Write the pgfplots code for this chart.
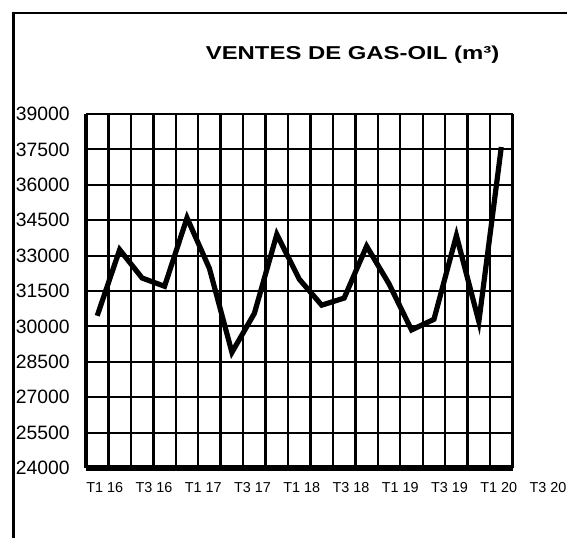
\documentclass[border=0pt]{standalone}
\usepackage{pgfplots}
\pgfplotsset{compat=1.18}
\usepackage{fontspec}
\setmainfont{Liberation Sans}
\begin{document}
\begin{tikzpicture}
\useasboundingbox (0,0) rectangle (425.25pt,403.5pt);
\clip (0,0) rectangle (425.25pt,403.5pt);
\draw[line width=2.2pt, line join=miter] (10.1pt,-10pt) -- (10.1pt,393.75pt) -- (440pt,393.75pt);
\node[font=\fontsize{14}{17}\selectfont\bfseries, anchor=base, xscale=1.28] at (264.4pt,358.5pt) {VENTES DE GAS-OIL (m³)};
\begin{axis}[
  at={(64.5pt,52.5pt)}, anchor=south west,
  scale only axis, width=319.9pt, height=265.5pt,
  xmin=-0.5, xmax=18.5, ymin=24000, ymax=39000,
  xtick={-0.5,0.5,1.5,2.5,3.5,4.5,5.5,6.5,7.5,8.5,9.5,10.5,11.5,12.5,13.5,14.5,15.5,16.5,17.5,18.5},
  xticklabels={},
  ytick={24000,25500,27000,28500,30000,31500,33000,34500,36000,37500,39000},
  scaled y ticks=false,
  grid=major,
  x grid style={black, line width=1.8pt},
  y grid style={black, line width=1.5pt},
  major tick length=0pt,
  axis x line*=bottom, axis y line*=left,
  axis line style={-},
  every inner x axis line/.append style={-},
  every inner y axis line/.append style={-},
  x axis line style={line width=4.2pt},
  y axis line style={line width=3pt},
  clip=false,
  /pgf/number format/assume math mode=true,
  /pgf/number format/set thousands separator={},
  yticklabel style={font=\fontsize{14.5}{17}\selectfont, anchor=east, inner sep=0pt, xshift=-12pt},
]
\addplot[black, line width=3.9pt, mark=none] coordinates {
(0,30450) (1,33250) (2,32050) (3,31700) (4,34600) (5,32450) (6,28900)
(7,30550) (8,33900) (9,32000) (10,30900) (11,31200) (12,33400) (13,31800)
(14,29850) (15,30300) (16,33850) (17,30200) (18,37600)};
\begin{scope}[every node/.style={font=\fontsize{10.8}{12}\selectfont, anchor=base, yshift=-18.5pt}]
\node at (axis cs:0.333,24000) {T1 16};
\node at (axis cs:2.527,24000) {T3 16};
\node at (axis cs:4.721,24000) {T1 17};
\node at (axis cs:6.915,24000) {T3 17};
\node at (axis cs:9.109,24000) {T1 18};
\node at (axis cs:11.303,24000) {T3 18};
\node at (axis cs:13.497,24000) {T1 19};
\node at (axis cs:15.691,24000) {T3 19};
\node at (axis cs:17.885,24000) {T1 20};
\node at (axis cs:20.079,24000) {T3 20};
\end{scope}
\end{axis}
\end{tikzpicture}
\end{document}
